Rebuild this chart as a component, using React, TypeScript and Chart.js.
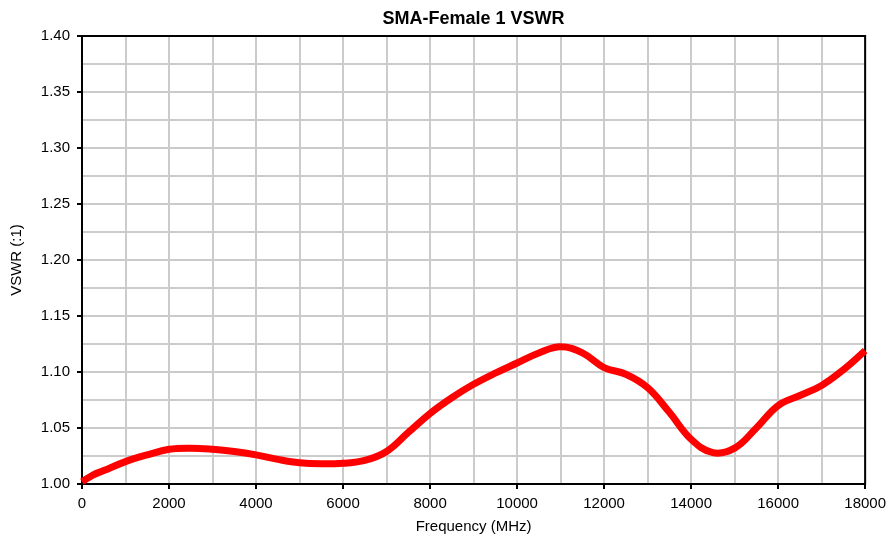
import React, { useEffect, useRef } from "react";
import { Chart, registerables } from "chart.js";

Chart.register(...registerables);

const chartTitle = "SMA-Female 1 VSWR";
const xTitle = "Frequency (MHz)";
const yTitle = "VSWR (:1)";

const frequencies = [
  0, 250, 500, 1000, 1500, 2000, 2500, 3000, 3500, 4000, 4500, 5000, 5500,
  6000, 6500, 7000, 7500, 8000, 8500, 9000, 9500, 10000, 10500, 11000, 11500,
  12000, 12500, 13000, 13500, 14000, 14500, 15000, 15500, 16000, 16500, 17000,
  17500, 18000,
];
const vswr = [
  1.002, 1.008, 1.012, 1.02, 1.026, 1.031, 1.032, 1.031, 1.029, 1.026, 1.022,
  1.019, 1.018, 1.0185, 1.021, 1.029, 1.046, 1.063, 1.077, 1.089, 1.099, 1.108,
  1.117, 1.1225, 1.117, 1.104, 1.098, 1.086, 1.064, 1.04, 1.028, 1.032, 1.05,
  1.07, 1.079, 1.088, 1.102, 1.119,
];

const xMin = 0;
const xMax = 18000;
const xGridStep = 1000;
const xLabelStep = 2000;
const yMin = 1.0;
const yMax = 1.4;
const yGridStep = 0.025;

const FONT = "'Liberation Sans', Arial, sans-serif";

const isYMajor = (v: number) => Math.round(v * 40) % 2 === 0;
const isXMajor = (v: number) => Math.round(v) % xLabelStep === 0;

const framePlugin = {
  id: "frameAndTitle",
  beforeDatasetsDraw(chart: any) {
    const { ctx, chartArea } = chart;
    ctx.save();
    ctx.strokeStyle = "#000";
    ctx.lineWidth = 2;
    ctx.strokeRect(
      chartArea.left,
      chartArea.top,
      chartArea.right - chartArea.left,
      chartArea.bottom - chartArea.top
    );
    ctx.restore();
  },
  afterDraw(chart: any) {
    const { ctx, chartArea } = chart;
    ctx.save();
    ctx.fillStyle = "#000";
    ctx.font = `bold 18px ${FONT}`;
    ctx.textAlign = "center";
    ctx.textBaseline = "middle";
    ctx.fillText(chartTitle, (chartArea.left + chartArea.right) / 2, 19);
    ctx.restore();
  },
};

export default function App() {
  const canvasRef = useRef<HTMLCanvasElement | null>(null);

  useEffect(() => {
    if (!canvasRef.current) return;
    const chart = new Chart(canvasRef.current, {
      type: "line",
      data: {
        datasets: [
          {
            label: chartTitle,
            data: frequencies.map((f, i) => ({ x: f, y: vswr[i] })),
            borderColor: "#ff0000",
            backgroundColor: "#ff0000",
            borderWidth: 7,
            pointRadius: 0,
            tension: 0.4,
            fill: false,
            clip: false as any,
          },
        ],
      },
      options: {
        responsive: false,
        animation: false,
        layout: { padding: { top: 36, right: 26, bottom: 0, left: 0 } },
        plugins: {
          legend: { display: false },
          title: { display: false },
          tooltip: { enabled: false },
        },
        scales: {
          x: {
            type: "linear",
            min: xMin,
            max: xMax,
            afterFit: (scale: any) => {
              scale.height = 58;
            },
            border: { display: true, color: "#000", width: 2 },
            grid: {
              color: "#cbcbcb",
              lineWidth: 2,
              tickLength: 5,
              tickWidth: 2,
              tickColor: (ctx: any) =>
                ctx.tick && isXMajor(ctx.tick.value) ? "#000" : "rgba(0,0,0,0)",
            },
            ticks: {
              stepSize: xGridStep,
              autoSkip: false,
              maxRotation: 0,
              padding: 6,
              color: "#000",
              font: { family: FONT, size: 15 },
              callback: (v: any) => (isXMajor(Number(v)) ? String(v) : ""),
            },
            title: {
              display: true,
              text: xTitle,
              color: "#000",
              font: { family: FONT, size: 15 },
              padding: { top: 0, bottom: 6 },
            },
          },
          y: {
            type: "linear",
            min: yMin,
            max: yMax,
            afterFit: (scale: any) => {
              scale.width = 82;
            },
            border: { display: true, color: "#000", width: 2 },
            grid: {
              color: "#cbcbcb",
              lineWidth: 2,
              tickLength: 5,
              tickWidth: 2,
              tickColor: (ctx: any) =>
                ctx.tick && isYMajor(ctx.tick.value) ? "#000" : "rgba(0,0,0,0)",
            },
            ticks: {
              stepSize: yGridStep,
              autoSkip: false,
              padding: 7,
              color: "#000",
              font: { family: FONT, size: 15 },
              callback: (v: any) =>
                isYMajor(Number(v)) ? Number(v).toFixed(2) : "",
            },
            title: {
              display: true,
              text: yTitle,
              color: "#000",
              font: { family: FONT, size: 15 },
              padding: { top: 8, bottom: 0 },
            },
          },
        },
      },
      plugins: [framePlugin],
    });
    return () => chart.destroy();
  }, []);

  return (
    <div style={{ position: "absolute", left: 0, top: 0, width: 892, height: 542, background: "#fff" }}>
      <canvas ref={canvasRef} width={892} height={542} />
    </div>
  );
}
